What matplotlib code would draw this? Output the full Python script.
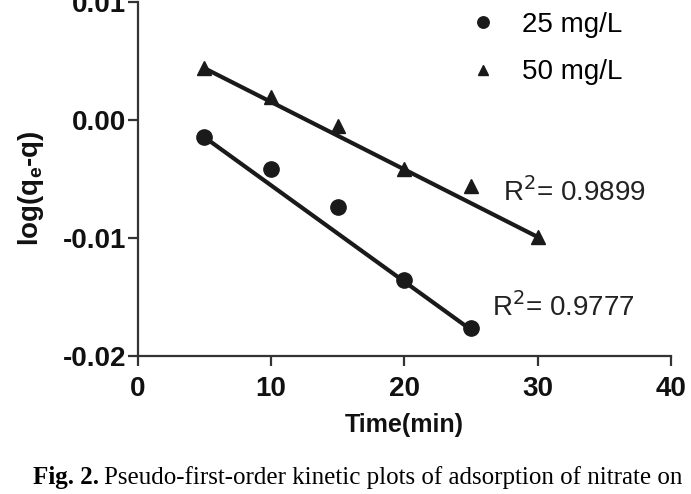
import matplotlib
matplotlib.use("Agg")
import matplotlib.pyplot as plt
import numpy as np

# --- DATA --------------------------- #
time_25 = [5, 10, 15, 20, 25]
logq_25 = [-0.00144, -0.00415, -0.00737, -0.01356, -0.01763]
time_50 = [5, 10, 15, 20, 25, 30]
logq_50 = [0.0044, 0.00195, -0.0005, -0.00415, -0.0056, -0.0099]
# fitted lines (slope, intercept)
fit_25 = (-0.000816, 0.00264)
fit_50 = (-0.000572, 0.00726)
r2_25 = "0.9777"
r2_50 = "0.9899"
x_ticks = [0, 10, 20, 30, 40]
y_ticks = [-0.02, -0.01, 0.00, 0.01]
y_ticklabels = ["-0.02", "-0.01", "0.00", "0.01"]
# ------------------------------------ #

plt.rcParams['font.family'] = ['Liberation Sans', 'DejaVu Sans']
dark = '#1a1a1a'

fig = plt.figure(figsize=(6.91, 4.94), dpi=100)
ax = fig.add_axes([0.199, 0.279, 0.772, 0.717])

# --- SCATTER + FITS ----------------- #
ax.plot(time_25, logq_25, 'o', color=dark, markersize=11, label="25 mg/L")
ax.plot(time_50, logq_50, '^', color=dark, markersize=10, label="50 mg/L")
for t, (k, b) in [(time_25, fit_25), (time_50, fit_50)]:
    xs = np.array([min(t), max(t)])
    ax.plot(xs, k * xs + b, color=dark, linewidth=3)
# ------------------------------------ #

ax.text(27.4, -0.0061, "R$^2$= " + r2_50, fontsize=20, va='center', ha='left', color='#222')
ax.text(26.6, -0.01585, "R$^2$= " + r2_25, fontsize=20, va='center', ha='left', color='#222')

# --- AXES --------------------------- #
ax.set_xlim(0, 40)
ax.set_ylim(-0.02, 0.01)
ax.set_xticks(x_ticks)
ax.set_yticks(y_ticks)
ax.set_yticklabels(y_ticklabels)
for lab in ax.get_xticklabels() + ax.get_yticklabels():
    lab.set_fontweight('bold')
    lab.set_fontsize(20)
    lab.set_color('#111')
ax.spines['top'].set_visible(False)
ax.spines['right'].set_visible(False)
for s in ['left', 'bottom']:
    ax.spines[s].set_linewidth(1.6)
    ax.spines[s].set_color('#333')
ax.tick_params(direction='out', length=7, width=1.6, color='#333')
ax.tick_params(axis='y', pad=1)
ax.tick_params(axis='x', pad=7)
ax.set_xlabel("Time(min)", fontsize=18, fontweight='bold', labelpad=8, color='#111')
ax.set_ylabel("log(q$_\\mathregular{e}$-q)", fontsize=20, fontweight='bold', color='#111')
ax.yaxis.set_label_coords(-0.172, 0.475)

ax.legend(loc='upper right', bbox_to_anchor=(0.955, 1.042), frameon=False, fontsize=20,
          handlelength=0.8, handletextpad=1.0, labelspacing=0.77, markerscale=0.75)
# ------------------------------------ #

fig.text(0.048, 0.033, "Fig. 2.", family='Liberation Serif', fontweight='bold', fontsize=18, va='center')
fig.text(0.150, 0.033, "Pseudo-first-order kinetic plots of adsorption of nitrate on",
         family='Liberation Serif', fontsize=18, va='center')

fig.savefig("out.png", dpi=100)
